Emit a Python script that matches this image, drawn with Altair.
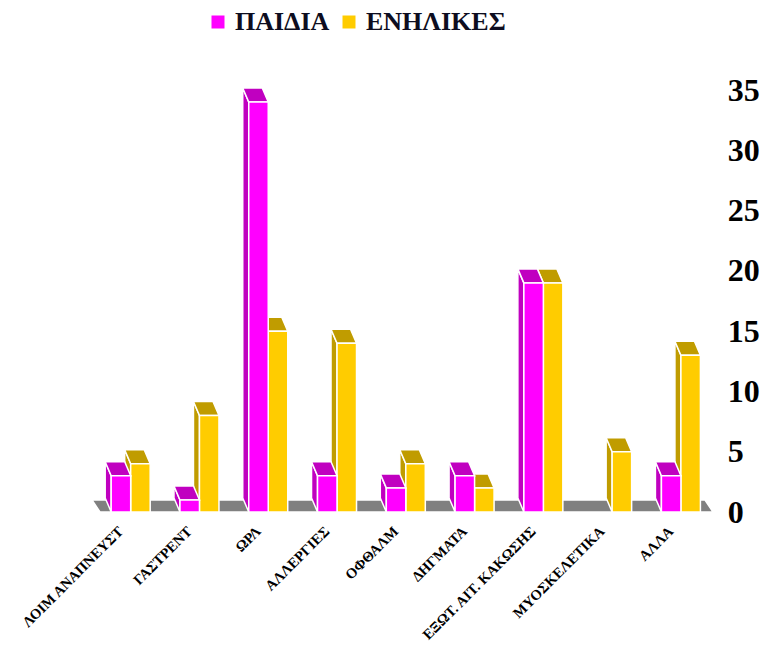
import altair as alt
import pandas as pd

# ---------------- data ----------------
categories = ["ΛΟΙΜ ΑΝΑΠΝΕΥΣΤ", "ΓΑΣΤΡΕΝΤ", "ΩΡΛ", "ΑΛΛΕΡΓΙΕΣ", "ΟΦΘΑΛΜ",
              "ΔΗΓΜΑΤΑ", "ΕΞΩΤ. ΑΙΤ. ΚΑΚΩΣΗΣ", "ΜΥΟΣΚΕΛΕΤΙΚΑ", "ΑΛΛΑ"]
paidia = [3, 1, 34, 3, 2, 3, 19, 0, 3]
enilikes = [4, 8, 15, 14, 4, 2, 19, 5, 13]
series_names = ["ΠΑΙΔΙΑ", "ΕΝΗΛΙΚΕΣ"]
y_ticks = [0, 5, 10, 15, 20, 25, 30, 35]

# ---------------- styles / geometry ----------------
W, H = 619, 422          # plot area in px
YMAX = 35
PX = len(categories) / W  # category units per px
PY = YMAX / H             # value units per px
DX = 6 * PX               # 3D depth shift (left)
DY = 14 * PY              # 3D depth shift (up)
front_col = {"ΠΑΙΔΙΑ": "#FF00FF", "ΕΝΗΛΙΚΕΣ": "#FFCC00"}
dark_col = {"ΠΑΙΔΙΑ": "#C000C0", "ΕΝΗΛΙΚΕΣ": "#C09C00"}
bar_span = {"ΠΑΙΔΙΑ": (-19.5, 0.0), "ΕΝΗΛΙΚΕΣ": (0.0, 19.5)}
values_by_series = {"ΠΑΙΔΙΑ": paidia, "ΕΝΗΛΙΚΕΣ": enilikes}


def top_face(pid, L, R, v, dx, dy, col):
    return [
        dict(pid=pid, x=L - dx, y=v + dy, y2=v + dy, fc=col),
        dict(pid=pid, x=L, y=v + dy, y2=v, fc=col),
        dict(pid=pid, x=R - dx, y=v + dy, y2=v, fc=col),
        dict(pid=pid, x=R, y=v, y2=v, fc=col),
    ]


def side_face(pid, L, v, dx, dy, col):
    return [
        dict(pid=pid, x=L - dx, y=dy, y2=v + dy, fc=col),
        dict(pid=pid, x=L, y=0, y2=v, fc=col),
    ]


face_rows = {s: [] for s in series_names}
front_rows = {s: [] for s in series_names}
for s in series_names:
    for i, (cat, v) in enumerate(zip(categories, values_by_series[s])):
        if v <= 0:
            continue
        c = i + 0.5
        L = c + bar_span[s][0] * PX
        R = c + bar_span[s][1] * PX
        face_rows[s] += side_face(f"{s}-side-{i}", L, v, DX, DY, dark_col[s])
        face_rows[s] += top_face(f"{s}-top-{i}", L, R, v, DX, DY, dark_col[s])
        front_rows[s].append(dict(series=s, cat=cat, x0=L, x1=R, v=v, base=0))

floor_rows = top_face("floor", (100 - 96.3) * PX, (713 - 96.3) * PX, 0,
                      8 * PX, 12 * PY, "#808080")

label_arr = "[" + ",".join("'" + c + "'" for c in categories) + "]"

xscale = alt.Scale(domain=[0, len(categories)], nice=False, zero=False)
yscale = alt.Scale(domain=[0, YMAX], nice=False, zero=False)

xaxis = alt.Axis(
    values=[i + 0.5 for i in range(len(categories))],
    labelExpr=label_arr + "[floor(datum.value)]",
    labelAngle=-45, labelAlign="right", labelBaseline="middle",
    labelFont="Liberation Serif", labelFontWeight="bold", labelFontSize=14.5,
    labelColor="#000000", labelPadding=17, labelOffset=-10,
    domain=False, ticks=False, grid=False, title=None,
    labelOverlap=False, labelBound=False, labelFlush=False,
)
yaxis = alt.Axis(
    values=y_ticks, orient="right",
    labelFont="Liberation Serif", labelFontWeight="bold", labelFontSize=32,
    labelColor="#000000", labelPadding=12, labelAlign="left",
    labelBaseline="middle",
    domain=False, ticks=False, grid=False, title=None,
)


def area_layer(rows):
    return alt.Chart(pd.DataFrame(rows)).mark_area(
        orient="vertical", stroke="white", strokeWidth=1.5, strokeJoin="miter"
    ).encode(
        x=alt.X("x:Q", scale=xscale, axis=xaxis),
        y=alt.Y("y:Q", scale=yscale, axis=yaxis, stack=None),
        y2="y2:Q",
        detail="pid:N",
        fill=alt.Fill("fc:N", scale=None),
    )


def front_layer(rows):
    return alt.Chart(pd.DataFrame(rows)).mark_rect(
        stroke="white", strokeWidth=1.5
    ).encode(
        x=alt.X("x0:Q", scale=xscale, axis=xaxis),
        x2="x1:Q",
        y=alt.Y("v:Q", scale=yscale, axis=yaxis, stack=None),
        y2="base:Q",
        color=alt.Color(
            "series:N",
            scale=alt.Scale(domain=series_names,
                            range=[front_col[s] for s in series_names]),
            legend=alt.Legend(
                orient="none", legendX=108.7, legendY=-81,
                direction="horizontal", title=None,
                symbolType="square", symbolSize=169, symbolStrokeWidth=0,
                labelFont="Liberation Serif", labelFontWeight="bold",
                labelFontSize=26, labelColor="#0d0d20",
                labelOffset=4, columnPadding=6, padding=0,
            ),
        ),
    )


chart = alt.layer(
    area_layer(floor_rows),
    area_layer(face_rows["ΕΝΗΛΙΚΕΣ"]),
    front_layer(front_rows["ΕΝΗΛΙΚΕΣ"]),
    area_layer(face_rows["ΠΑΙΔΙΑ"]),
    front_layer(front_rows["ΠΑΙΔΙΑ"]),
).properties(
    width=W, height=H,
    padding={"left": 96.3, "top": 90, "right": 765 - 96.3 - W, "bottom": 648 - 90 - H},
    autosize=alt.AutoSizeParams(type="none"),
    background="white",
).configure_view(stroke=None)

chart.save("out.html", embed_options={"renderer": "svg", "actions": False})
